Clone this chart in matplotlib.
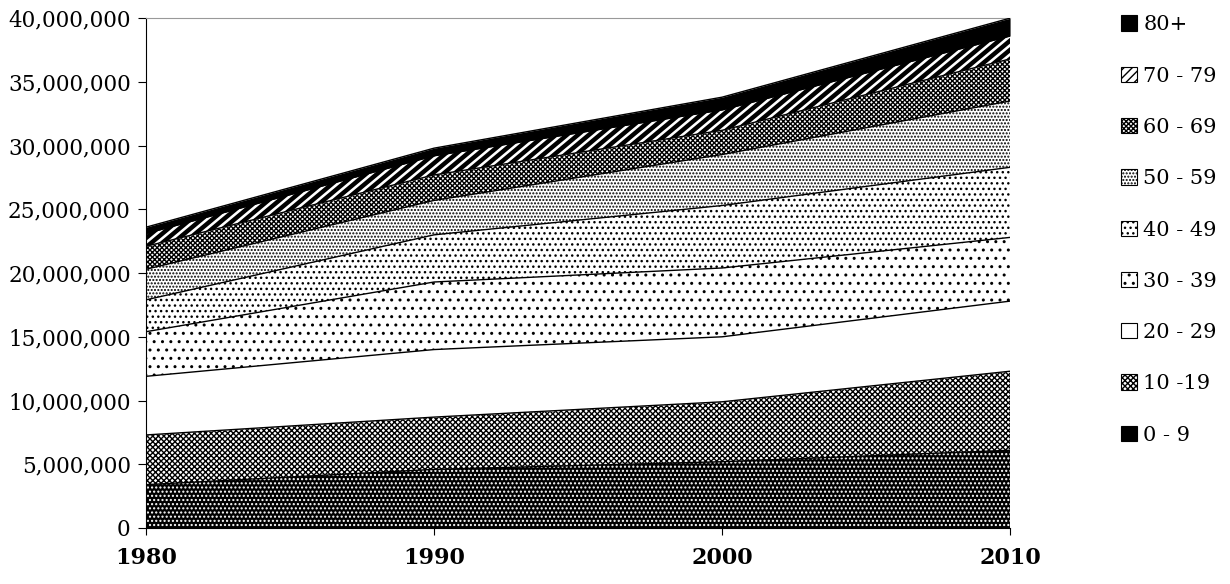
import numpy as np
import matplotlib.pyplot as plt
from matplotlib.collections import LineCollection

plt.rcParams["font.family"] = "DejaVu Serif"
plt.rcParams["hatch.linewidth"] = 1.0

years = [1980, 1990, 2000, 2010]
labels = ["0 - 9", "10 -19", "20 - 29", "30 - 39", "40 - 49",
          "50 - 59", "60 - 69", "70 - 79", "80+"]

# population per age group
age_0_9 = [3400000, 4600000, 5200000, 6100000]
age_10_19 = [3900000, 4100000, 4700000, 6200000]
age_20_29 = [4600000, 5300000, 5100000, 5500000]
age_30_39 = [3500000, 5300000, 5400000, 5000000]
age_40_49 = [2500000, 3700000, 4900000, 5500000]
age_50_59 = [2400000, 2700000, 4000000, 5200000]
age_60_69 = [1800000, 2000000, 1900000, 3300000]
age_70_79 = [1000000, 1500000, 1600000, 1800000]
age_80 = [500000, 600000, 1000000, 1400000]

series = [age_0_9, age_10_19, age_20_29, age_30_39, age_40_49,
          age_50_59, age_60_69, age_70_79, age_80]

styles = [
    dict(facecolor="black", edgecolor="white", hatch="...."),
    dict(facecolor="white", edgecolor="black", hatch="xxxxxx"),
    dict(facecolor="white", edgecolor="black", hatch=None),
    dict(facecolor="white", edgecolor="black", hatch=".."),
    dict(facecolor="white", edgecolor="black", hatch="..."),
    dict(facecolor="white", edgecolor="black", hatch="....."),
    dict(facecolor="white", edgecolor="black", hatch="xxxxxxx"),
    dict(facecolor="white", edgecolor="black", hatch="////"),
    dict(facecolor="black", edgecolor="black", hatch=None),
]

fig = plt.figure(figsize=(12.3, 5.84), dpi=100)
ax = fig.add_axes([0.1187, 0.0959, 0.7025, 0.873])

base = np.zeros(len(years))
handles = []
for vals, lab, st in zip(series, labels, styles):
    top = base + np.array(vals)
    h = ax.fill_between(years, base, top, linewidth=0, label=lab, **st)
    handles.append(h)
    if lab == "70 - 79":
        # heavy diagonal stripes, drawn by hand and clipped to the band
        h.set_hatch(None)
        w, hgt = 864.0, 510.0
        step = 11.0 / w
        dx = hgt / w * 1.2
        segs = [[(x0, 0), (x0 + dx, 1)] for x0 in np.arange(-dx, 1 + step, step)]
        lc = LineCollection(segs, colors="black", linewidths=3.2,
                            transform=ax.transAxes, zorder=h.get_zorder() + 0.1)
        ax.add_collection(lc)
        lc.set_clip_path(h.get_paths()[0], ax.transData)
    ax.plot(years, top, color="black", linewidth=1, zorder=3)
    base = top

ax.set_xlim(1980, 2010)
ax.set_ylim(0, 40000000)
ax.set_xticks(years)
ax.set_yticks(np.arange(0, 40000001, 5000000))
ax.yaxis.set_major_formatter(plt.FuncFormatter(lambda v, p: "{:,.0f}".format(v)))
ax.tick_params(axis="y", labelsize=15.5, length=6, direction="out", pad=5)
ax.tick_params(axis="x", labelsize=16, length=5, direction="out", pad=9)
for t in ax.get_xticklabels():
    t.set_fontweight("bold")

ax.spines["right"].set_visible(False)
ax.spines["top"].set_color("#999999")

leg = fig.legend(handles[::-1], labels[::-1], loc="upper left",
                 bbox_to_anchor=(0.905, 0.988), frameon=False,
                 fontsize=15, handlelength=0.75, handleheight=0.75,
                 handletextpad=0.3, labelspacing=1.55, borderaxespad=0)
for p in leg.get_patches():
    p.set_linewidth(0.8)
    p.set_edgecolor("black")
    if p.get_label() == "70 - 79" or p.get_hatch() is None and p.get_facecolor()[0] > 0.5:
        pass
leg.get_patches()[1].set_hatch("////")
leg.get_patches()[1].set_edgecolor("black")

fig.savefig("out.png", dpi=100)
